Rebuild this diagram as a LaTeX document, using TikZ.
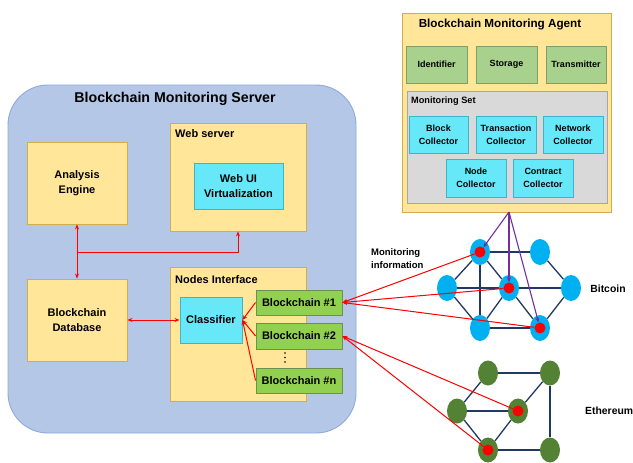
\documentclass[tikz,border=0pt]{standalone}
\usepackage{fontspec}
\setmainfont{Liberation Sans}
\usetikzlibrary{shapes.geometric,arrows.meta}
\definecolor{srvfill}{HTML}{B4C7E7}
\definecolor{srvline}{HTML}{8FAADC}
\definecolor{yfill}{HTML}{FFE699}
\definecolor{yline}{HTML}{D0AE4C}
\definecolor{cfill}{HTML}{66E8F8}
\definecolor{cline}{HTML}{3CB4CC}
\definecolor{gfill}{HTML}{A9D18E}
\definecolor{gline}{HTML}{7F9F6A}
\definecolor{bfill}{HTML}{92D050}
\definecolor{bline}{HTML}{6D8F4F}
\definecolor{grfill}{HTML}{D9D9D9}
\definecolor{grline}{HTML}{A6A6A6}
\definecolor{btc}{HTML}{00B0F0}
\definecolor{eth}{HTML}{548235}
\definecolor{navy}{HTML}{203864}
\definecolor{purp}{HTML}{7030A0}
\tikzset{
  box/.style={draw, line width=0.9pt, inner sep=0pt, align=center, font=\bfseries\fontsize{11}{15}\selectfont},
  ybox/.style={box, fill=yfill, draw=yline},
  cbox/.style={box, fill=cfill, draw=cline},
  gbox/.style={box, fill=gfill, draw=gline, font=\bfseries\fontsize{9}{13}\selectfont},
  acbox/.style={box, fill=cfill, draw=cline, font=\bfseries\fontsize{9}{13}\selectfont},
  bcbox/.style={box, fill=bfill, draw=bline},
  lbl/.style={inner sep=0pt, anchor=west, font=\bfseries\fontsize{11}{14}\selectfont},
  btcnode/.style={ellipse, fill=btc, minimum width=20pt, minimum height=26pt, inner sep=0pt},
  ethnode/.style={ellipse, fill=eth, minimum width=20pt, minimum height=25pt, inner sep=0pt},
  rdot/.style={circle, fill=red, minimum size=11pt, inner sep=0pt},
  edge/.style={draw=navy, line width=1.3pt},
  rarr/.style={draw=red, line width=1pt, -{Stealth[length=5pt,width=4pt]}},
  rdarr/.style={draw=red, line width=1pt, {Stealth[length=5pt,width=4pt]}-{Stealth[length=5pt,width=4pt]}},
  parr/.style={draw=purp, line width=1.1pt, -{Stealth[length=5pt,width=4pt]}},
}
\begin{document}
\begin{tikzpicture}[x=1pt,y=-1pt]
\useasboundingbox (0,0) rectangle (633,463);
% server
\node[draw=srvline, fill=srvfill, line width=0.9pt, rounded corners=40pt, minimum width=348pt, minimum height=348pt, inner sep=0pt] (server) at (182,259) {};
\node[inner sep=0pt, font=\bfseries\fontsize{14.2}{17}\selectfont] (srvtitle) at (175,99) {Blockchain Monitoring Server};
\node[ybox, minimum width=100pt, minimum height=82pt] (analysis) at (77,183) {Analysis\\Engine};
\node[ybox, minimum width=136pt, minimum height=108pt] (webserver) at (238,177) {};
\node[lbl] (wslbl) at (175,134) {Web server};
\node[cbox, minimum width=89pt, minimum height=46pt] (webui) at (238.5,186) {Web UI\\Virtualization};
\node[ybox, minimum width=100pt, minimum height=82pt] (db) at (77,320) {Blockchain\\Database};
\node[ybox, minimum width=136pt, minimum height=134pt] (nodesif) at (238,334) {};
\node[lbl] (nilbl) at (175,280) {Nodes Interface};
\node[cbox, minimum width=62pt, minimum height=46pt] (classifier) at (211,320) {Classifier};
\node[bcbox, minimum width=86pt, minimum height=25pt] (bc1) at (299,302.5) {Blockchain \#1};
\node[bcbox, minimum width=86pt, minimum height=26pt] (bc2) at (299,336) {Blockchain \#2};
\foreach \yy in {353,357.5,362} \fill (285,\yy) circle (0.9pt);
\node[bcbox, minimum width=86pt, minimum height=25pt] (bcn) at (299,380.5) {Blockchain \#n};
% server arrows
\coordinate (junc) at (77,252);
\draw[rdarr] (analysis.south) -- (db.north);
\draw[rarr] (junc) -| (webserver.south);
\draw[rdarr] (db.east) -- (classifier.west);
\draw[rarr] (bc1.west) -- (classifier.east);
\draw[rarr] (bc2.west) -- (classifier.east);
\draw[rarr] (bcn.west) -- (classifier.east);
% agent
\node[ybox, minimum width=209pt, minimum height=199pt] (agent) at (506.5,112.5) {};
\node[inner sep=0pt, font=\bfseries\fontsize{11.7}{14}\selectfont] (agtitle) at (500,25) {Blockchain Monitoring Agent};
\node[gbox, minimum width=61pt, minimum height=37pt] (ident) at (436.5,64.5) {Identifier};
\node[gbox, minimum width=61pt, minimum height=37pt] (storage) at (506.5,64.5) {Storage};
\node[gbox, minimum width=60pt, minimum height=37pt] (trans) at (576,64.5) {Transmitter};
\node[box, fill=grfill, draw=grline, minimum width=200pt, minimum height=112pt] (monset) at (507,147) {};
\node[lbl, font=\bfseries\fontsize{9.2}{12}\selectfont] (mslbl) at (411,101) {Monitoring Set};
\node[acbox, minimum width=59pt, minimum height=37pt] (blockc) at (438.5,134.5) {Block\\Collector};
\node[acbox, minimum width=60pt, minimum height=37pt] (transc) at (506,134.5) {Transaction\\Collector};
\node[acbox, minimum width=60pt, minimum height=37pt] (netc) at (573,134.5) {Network\\Collector};
\node[acbox, minimum width=60pt, minimum height=38pt] (nodec) at (476,178) {Node\\Collector};
\node[acbox, minimum width=60pt, minimum height=38pt] (contc) at (543,178) {Contract\\Collector};
\coordinate (agbot) at (509,212);
% bitcoin
\node[btcnode] (A) at (480,252) {};
\node[btcnode] (B) at (540,252) {};
\node[btcnode] (C) at (447,288) {};
\node[btcnode] (D) at (509,288) {};
\node[btcnode] (E) at (571,288) {};
\node[btcnode] (F) at (480,328) {};
\node[btcnode] (G) at (540,328) {};
\foreach \u/\v in {A/B,A/C,A/D,A/F,B/E,C/D,C/F,D/E,D/F,D/G,E/G,F/G}
  \draw[edge] (\u) -- (\v);
\node[rdot] (Ad) at (480,252) {};
\node[rdot] (Dd) at (509,288) {};
\node[rdot] (Gd) at (540,328) {};
\node[inner sep=0pt, font=\bfseries\fontsize{10.4}{12}\selectfont] (btclbl) at (608,289) {Bitcoin};
% ethereum
\node[ethnode] (H) at (488,373) {};
\node[ethnode] (I) at (550,373) {};
\node[ethnode] (J) at (457,411) {};
\node[ethnode] (K) at (518,411) {};
\node[ethnode] (L) at (488,450) {};
\node[ethnode] (M) at (550,450) {};
\foreach \u/\v in {H/I,H/J,I/K,I/M,J/K,J/L,K/L,L/M}
  \draw[edge] (\u) -- (\v);
\node[rdot] (Kd) at (518,411) {};
\node[rdot] (Ld) at (488,450) {};
\node[inner sep=0pt, anchor=west, font=\bfseries\fontsize{10.4}{12}\selectfont] (ethlbl) at (585,411) {Ethereum};
% monitoring arrows
\draw[parr] (agbot) -- (Ad);
\draw[parr] (agbot) -- (Dd);
\draw[parr] (agbot) -- (Gd);
\draw[rarr] (Ad) -- (bc1.east);
\draw[rarr] (Dd) -- (bc1.east);
\draw[rarr] (Gd) -- (bc1.east);
\draw[rarr] (Kd) -- (bc2.east);
\draw[rarr] (Ld) -- (bc2.east);
\node[inner sep=0pt, anchor=north west, align=left, font=\bfseries\fontsize{9.5}{13}\selectfont] (moninfo) at (371,248) {Monitoring\\information};
\end{tikzpicture}
\end{document}
